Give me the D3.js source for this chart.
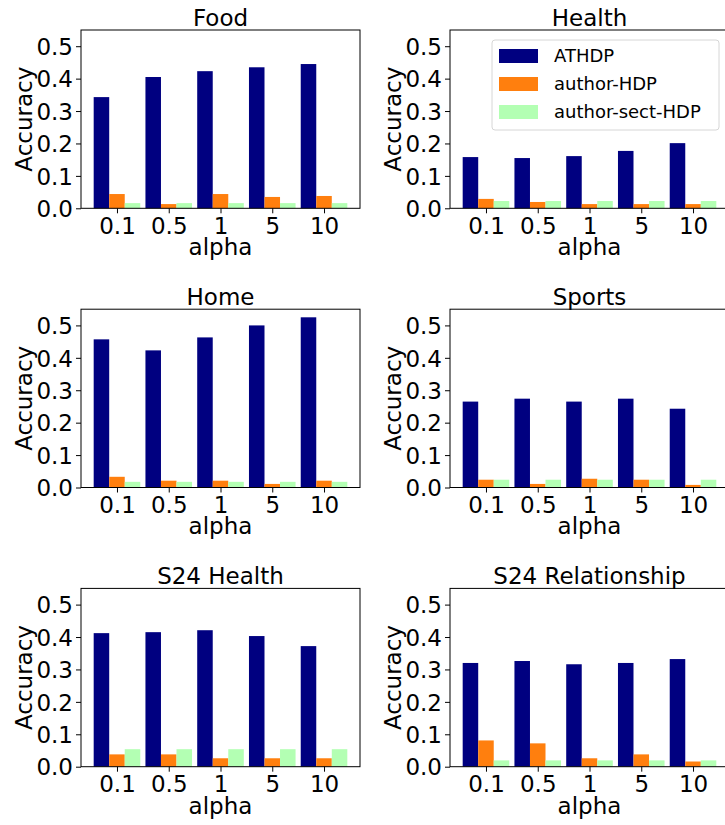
<!DOCTYPE html>
<html>
<head>
<meta charset="utf-8">
<script src="https://cdn.jsdelivr.net/npm/d3@7"></script>
<style>
  body { margin: 0; background: #fff; }
  text { font-family: "DejaVu Sans", sans-serif; fill: #000; }
</style>
</head>
<body>
<script>
var w = 725;
var h = 825;

// x categories (alpha values) and series
var alphas = ["0.1", "0.5", "1", "5", "10"];
var seriesNames = ["ATHDP", "author-HDP", "author-sect-HDP"];
var seriesColors = ["#000080", "#ff7f0e", "#b3ffb3"];
var titles = ["Food", "Health", "Home", "Sports", "S24 Health", "S24 Relationship"];
var yTicks = [0, 0.1, 0.2, 0.3, 0.4, 0.5];

// accuracy per panel: [ATHDP, author-HDP, author-sect-HDP]
var food = [
  [0.343, 0.405, 0.423, 0.435, 0.445],
  [0.044, 0.013, 0.044, 0.035, 0.038],
  [0.016, 0.016, 0.016, 0.016, 0.016]
];
var health = [
  [0.158, 0.155, 0.161, 0.177, 0.201],
  [0.029, 0.0195, 0.013, 0.013, 0.013],
  [0.0225, 0.0225, 0.0225, 0.0225, 0.0225]
];
var home = [
  [0.457, 0.423, 0.463, 0.500, 0.525],
  [0.033, 0.021, 0.021, 0.011, 0.021],
  [0.0175, 0.0175, 0.0175, 0.0175, 0.0175]
];
var sports = [
  [0.265, 0.274, 0.265, 0.274, 0.243],
  [0.024, 0.011, 0.027, 0.024, 0.008],
  [0.024, 0.024, 0.024, 0.024, 0.024]
];
var s24Health = [
  [0.412, 0.415, 0.421, 0.403, 0.372],
  [0.038, 0.038, 0.026, 0.026, 0.026],
  [0.054, 0.054, 0.054, 0.054, 0.054]
];
var s24Relationship = [
  [0.320, 0.326, 0.316, 0.320, 0.332],
  [0.081, 0.072, 0.026, 0.038, 0.016],
  [0.0195, 0.0195, 0.0195, 0.0195, 0.0195]
];
var panels = [food, health, home, sports, s24Health, s24Relationship];

// layout
var colLeft = [81, 450];
var rowTop = [30, 309.2, 588.4];
var pw = 279;
var ph = 178.3;
var barW = 0.3;

var svg = d3.select("body")
    .append("svg")
    .attr("width", w)
    .attr("height", h);

svg.append("rect")
    .attr("width", w)
    .attr("height", h)
    .attr("fill", "#fff");

var lo = -1.5 * barW, hi = alphas.length - 1 + 1.5 * barW;
var pad = 0.05 * (hi - lo);

var xScale = d3.scaleLinear()
    .domain([lo - pad, hi + pad])
    .range([0, pw]);

var yScale = d3.scaleLinear()
    .domain([0, 0.55])
    .range([ph, 0]);

panels.forEach(function(data, p) {
  var g = svg.append("g")
      .attr("transform", "translate(" + colLeft[p % 2] + "," + rowTop[Math.floor(p / 2)] + ")");

  data.forEach(function(vals, s) {
    g.selectAll(".bar" + s)
        .data(vals)
        .enter()
        .append("rect")
        .attr("x", function(d, i) { return xScale(i + (s - 1) * barW - barW / 2); })
        .attr("width", xScale(barW) - xScale(0))
        .attr("y", function(d) { return yScale(d); })
        .attr("height", function(d) { return ph - yScale(d); })
        .attr("fill", seriesColors[s]);
  });

  // frame
  g.append("rect")
      .attr("width", pw)
      .attr("height", ph)
      .attr("fill", "none")
      .attr("stroke", "#000")
      .attr("stroke-width", 1);

  var yAxis = d3.axisLeft(yScale)
      .tickValues(yTicks)
      .tickFormat(d3.format(".1f"))
      .tickSize(5)
      .tickPadding(3);

  var gy = g.append("g").call(yAxis);
  gy.select(".domain").remove();
  gy.selectAll("text").style("font-size", "23px").attr("dy", "0.36em");

  var xAxis = d3.axisBottom(xScale)
      .tickValues(d3.range(alphas.length))
      .tickFormat(function(d) { return alphas[d]; })
      .tickSize(5)
      .tickPadding(4);

  var gx = g.append("g")
      .attr("transform", "translate(0," + ph + ")")
      .call(xAxis);
  gx.select(".domain").remove();
  gx.selectAll("text").style("font-size", "23px");

  g.append("text")
      .attr("x", pw / 2)
      .attr("y", -4)
      .attr("text-anchor", "middle")
      .style("font-size", "23px")
      .text(titles[p]);

  g.append("text")
      .attr("x", pw / 2)
      .attr("y", ph + 47)
      .attr("text-anchor", "middle")
      .style("font-size", "23px")
      .text("alpha");

  g.append("text")
      .attr("transform", "translate(-49," + ph / 2 + ") rotate(-90)")
      .attr("text-anchor", "middle")
      .style("font-size", "23px")
      .text("Accuracy");

  // legend only in Health panel
  if (p == 1) {
    var lg = g.append("g").attr("transform", "translate(42,10)");
    lg.append("rect")
        .attr("width", 227)
        .attr("height", 90)
        .attr("rx", 3)
        .attr("fill", "#fff")
        .attr("fill-opacity", 0.8)
        .attr("stroke", "#d6d6d6");
    seriesNames.forEach(function(name, s) {
      lg.append("rect")
          .attr("x", 7)
          .attr("y", 9 + s * 28)
          .attr("width", 39)
          .attr("height", 14)
          .attr("fill", seriesColors[s]);
      lg.append("text")
          .attr("x", 62)
          .attr("y", 22 + s * 28)
          .style("font-size", "18px")
          .text(name);
    });
  }
});
</script>
</body>
</html>
